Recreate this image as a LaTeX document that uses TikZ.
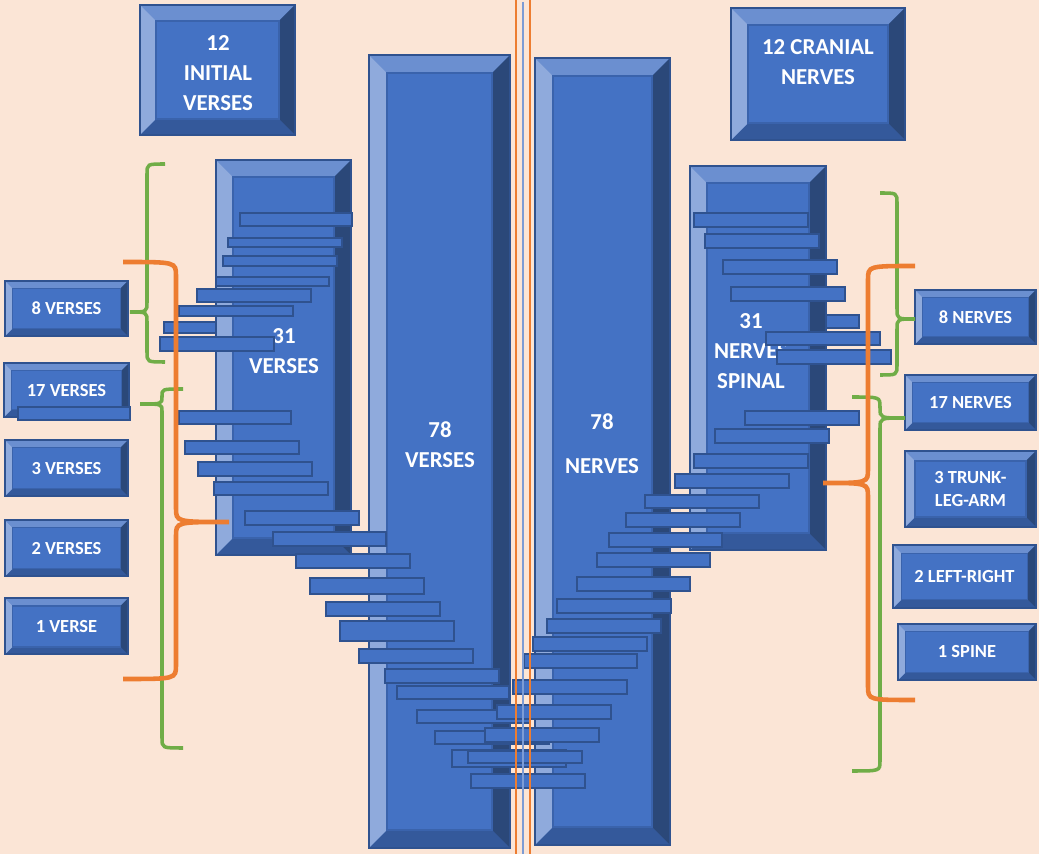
\documentclass[tikz,border=0pt]{standalone}
\usepackage{fontspec}
\setmainfont{Carlito}
\usepackage{tikz}
\usetikzlibrary{positioning}
\definecolor{paper}{HTML}{FBE5D6}
\definecolor{boxmid}{HTML}{4472C4}
\definecolor{boxedge}{HTML}{2F528F}
\definecolor{bevtop}{HTML}{6B8FD0}
\definecolor{bevleft}{HTML}{8FAADC}
\definecolor{bevright}{HTML}{2B4879}
\definecolor{bevbottom}{HTML}{34599B}
\definecolor{bevinner}{HTML}{3A63AC}
\definecolor{bracegreen}{HTML}{70AD47}
\definecolor{braceorange}{HTML}{ED7D31}
\definecolor{midblue}{HTML}{7D9CD5}
\tikzset{
    bevelbox/.style={
        rectangle, draw=boxedge, fill=boxmid, line width=1.2pt,
        inner sep=0pt, text=white, align=center,
        font=\fontsize{10.5}{13}\selectfont\bfseries,
        path picture={
            \fill[bevtop] (path picture bounding box.north west) -- (path picture bounding box.north east)
                -- ([shift={(-#1,-#1)}]path picture bounding box.north east)
                -- ([shift={(#1,-#1)}]path picture bounding box.north west) -- cycle;
            \fill[bevbottom] (path picture bounding box.south west) -- (path picture bounding box.south east)
                -- ([shift={(-#1,#1)}]path picture bounding box.south east)
                -- ([shift={(#1,#1)}]path picture bounding box.south west) -- cycle;
            \fill[bevleft] (path picture bounding box.north west) -- (path picture bounding box.south west)
                -- ([shift={(#1,#1)}]path picture bounding box.south west)
                -- ([shift={(#1,-#1)}]path picture bounding box.north west) -- cycle;
            \fill[bevright] (path picture bounding box.north east) -- (path picture bounding box.south east)
                -- ([shift={(-#1,#1)}]path picture bounding box.south east)
                -- ([shift={(-#1,-#1)}]path picture bounding box.north east) -- cycle;
            \draw[bevinner, line width=0.8pt] ([shift={(#1,-#1)}]path picture bounding box.north west)
                rectangle ([shift={(-#1,#1)}]path picture bounding box.south east);
        }
    },
    bevelbox/.default=0.15cm,
    bigtext/.style={
        text=white, align=center, font=\fontsize{13}{17}\selectfont\bfseries
    },
    bartile/.style={
        draw=boxedge, fill=boxmid, line width=1.5pt
    },
    greenbrace/.style={
        draw=bracegreen, line width=2pt
    },
    orangebrace/.style={
        draw=braceorange, line width=2.6pt
    },
    midline/.style={
        draw=#1, line width=1.1pt
    },
}
\begin{document}
\begin{tikzpicture}[x=0.02cm, y=-0.02cm]
    \useasboundingbox (0,0) rectangle (1039,854);
    \fill[paper] (0,0) rectangle (1039,854);

    % Bars hidden behind the 31 boxes
    \draw[bartile] (164,322) rectangle (260,333);
    \draw[bartile] (780,315) rectangle (859,328);

    % Top boxes
    \node[bevelbox=0.32cm, minimum width=3.10cm, minimum height=2.60cm] (initial) at (217.5,70) {};
    \node[bigtext] (initialtext) at (218,73) {12\\INITIAL\\VERSES};
    \node[bevelbox=0.34cm, minimum width=3.48cm, minimum height=2.64cm] (cranial) at (818,74) {};
    \node[bigtext] (cranialtext) at (818,62) {12 CRANIAL\\NERVES};

    % Tall columns
    \node[bevelbox=0.34cm, minimum width=2.70cm, minimum height=7.90cm] (verses31) at (283.5,357.5) {};
    \node[bigtext] (verses31text) at (284,351) {31\\VERSES};
    \node[bevelbox=0.36cm, minimum width=2.82cm, minimum height=15.86cm] (verses78) at (439.5,451.5) {};
    \node[bigtext] (verses78text) at (440,445) {78\\VERSES};
    \node[bevelbox=0.36cm, minimum width=2.70cm, minimum height=15.74cm] (nerves78) at (602.5,451.5) {};
    \node[bigtext] (nerves78text) at (602,444) {78\\[8pt]NERVES};
    \node[bevelbox=0.34cm, minimum width=2.72cm, minimum height=7.68cm] (nerves31) at (758,358) {};
    \node[bigtext] (nerves31text) at (751,351) {31\\NERVES\\SPINAL};

    % Left column: verse groups
    \node[bevelbox, minimum width=2.46cm, minimum height=1.10cm] (verses8) at (66.5,308.5) {8 VERSES};
    \node[bevelbox, minimum width=2.50cm, minimum height=1.08cm, below=0.50cm of verses8] (verses17) {17 VERSES};
    \node[bevelbox, minimum width=2.46cm, minimum height=1.12cm, below=0.42cm of verses17] (verses3) {3 VERSES};
    \node[bevelbox, minimum width=2.46cm, minimum height=1.12cm, below=0.44cm of verses3] (verses2) {2 VERSES};
    \node[bevelbox, minimum width=2.46cm, minimum height=1.12cm, below=0.40cm of verses2] (verses1) {1 VERSE};

    % Right column: nerve groups
    \node[bevelbox, minimum width=2.42cm, minimum height=1.08cm] (nerves8) at (975.5,317) {8 NERVES};
    \node[bevelbox, minimum width=2.62cm, minimum height=1.10cm] (nerves17) at (970.5,402.5) {17 NERVES};
    \node[bevelbox=0.2cm, minimum width=2.62cm, minimum height=1.52cm] (nerves3) at (970.5,489) {3 TRUNK-\\LEG-ARM};
    \node[bevelbox=0.17cm, minimum width=2.86cm, minimum height=1.26cm] (nerves2) at (964.5,576.5) {2 LEFT-RIGHT};
    \node[bevelbox, minimum width=2.76cm, minimum height=1.12cm] (nerves1) at (967,652) {1 SPINE};

    % Verse bars
    \foreach \xa/\ya/\xb/\yb in {240/213/352/226, 228/238/342/247, 223/256/337/266, 216/277/329/286,
        197/289/311/302, 179/306/293/316, 160/337/274/351, 18/407/130/420, 179/411/291/424,
        185/441/299/454, 198/462/312/476, 214/482/328/495, 245/511/359/525, 273/532/386/546,
        296/554/410/568, 310/578/424/594, 326/602/440/616, 340/621/454/641, 359/649/473/663,
        385/669/499/683, 397/686/509/699, 417/710/530/723, 435/731/549/744, 452/750/566/767,
        471/774/585/788}
        \draw[bartile] (\xa,\ya) rectangle (\xb,\yb);

    % Nerve bars
    \foreach \xa/\ya/\xb/\yb in {694/213/808/227, 705/234/819/248, 723/260/837/274, 731/287/845/301,
        766/332/880/345, 777/350/891/364, 745/411/859/425, 715/429/829/443, 694/454/808/468,
        675/474/789/488, 645/495/759/508, 626/513/740/527, 609/533/722/547, 597/553/710/567,
        577/577/690/591, 557/599/671/613, 547/619/661/633, 533/637/647/651, 524/654/637/668,
        513/680/627/694, 497/705/611/719, 485/728/599/742, 468/751/582/763}
        \draw[bartile] (\xa,\ya) rectangle (\xb,\yb);

    % Braces, left
    \draw[greenbrace] (165,164) .. controls (147,164) .. (147,174) -- (147,302) .. controls (147,312) .. (130,312)
        .. controls (147,312) .. (147,322) -- (147,352) .. controls (147,362) .. (165,362);
    \draw[greenbrace] (183,389) .. controls (162,389) .. (162,396) -- (162,397) .. controls (162,404) .. (140,404)
        .. controls (162,404) .. (162,411) -- (162,738) .. controls (162,748) .. (183,748);
    \draw[orangebrace] (123,262) .. controls (176,262) .. (176,276) -- (176,508) .. controls (176,522) .. (229,522)
        .. controls (176,522) .. (176,536) -- (176,665) .. controls (176,679) .. (123,679);

    % Braces, right
    \draw[greenbrace] (880,193) .. controls (897,193) .. (897,203) -- (897,309) .. controls (897,319) .. (915,319)
        .. controls (897,319) .. (897,329) -- (897,365) .. controls (897,375) .. (880,375);
    \draw[greenbrace] (852,397) .. controls (880,397) .. (880,407) -- (880,408) .. controls (880,418) .. (905,418)
        .. controls (880,418) .. (880,428) -- (880,761) .. controls (880,771) .. (852,771);
    \draw[orangebrace] (915,266) .. controls (868,266) .. (868,280) -- (868,469) .. controls (868,483) .. (823,483)
        .. controls (868,483) .. (868,497) -- (868,686) .. controls (868,700) .. (915,700);

    % Middle lines
    \draw[midline=braceorange] (516,0) -- (516,854);
    \draw[midline=midblue] (523,2) -- (523,854);
    \draw[midline=braceorange] (530,0) -- (530,854);
\end{tikzpicture}
\end{document}
